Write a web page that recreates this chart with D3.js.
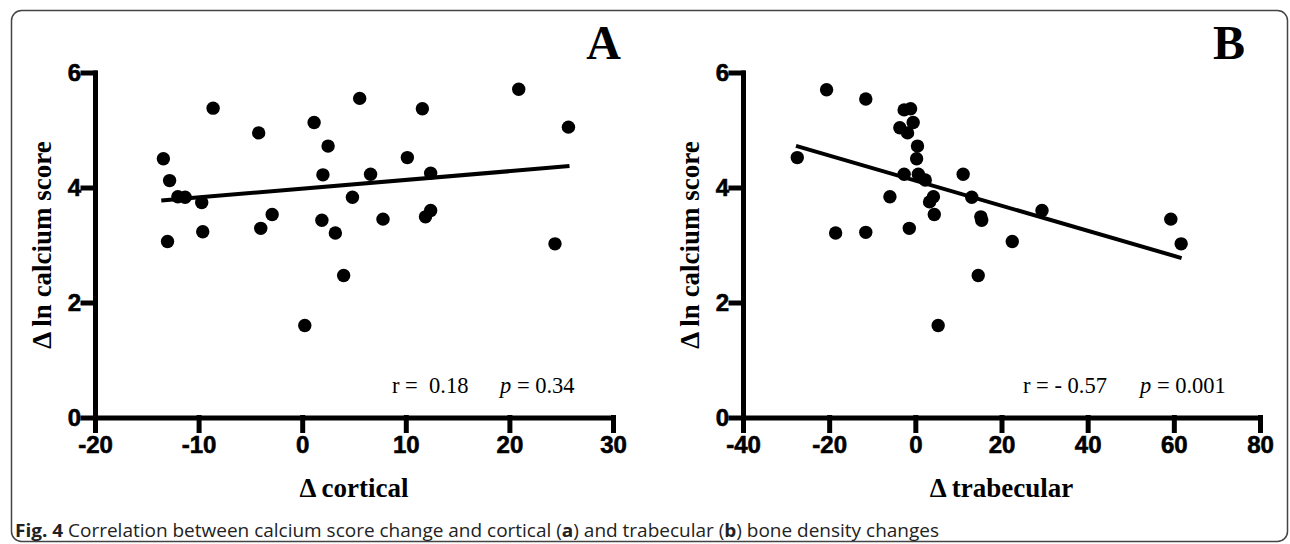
<!DOCTYPE html>
<html>
<head>
<meta charset="utf-8">
<script src="https://cdn.jsdelivr.net/npm/d3@7"></script>
<style>
  body { margin: 0; background: #fff; }
  svg { display: block; }
  .tick-label {
    font: bold 24px "Liberation Sans", Arial, sans-serif;
    fill: #000;
    stroke: #000;
    stroke-width: 0.6px;
  }
  .axis-title {
    font-family: "Liberation Serif", "Times New Roman", serif;
    font-weight: bold;
    font-size: 27px;
  }
  .panel-letter {
    font-family: "Liberation Serif", "Times New Roman", serif;
    font-weight: bold;
    font-size: 48px;
  }
  .stats {
    font-family: "Liberation Serif", "Times New Roman", serif;
    font-size: 22.5px;
  }
  .caption {
    font-family: "Open Sans", "Noto Sans", sans-serif;
    font-size: 17.5px;
    fill: #222;
  }
</style>
</head>
<body>
<div id="chart"></div>
<script>
// tick labels
const yTicks = [0, 2, 4, 6];
const corticalTicks = [-20, -10, 0, 10, 20, 30];
const trabecularTicks = [-40, -20, 0, 20, 40, 60, 80];

// panel A: delta cortical vs delta ln calcium score
const corticalX = [-13.4, -12.8, -12.0, -11.3, -13.0, -9.7, -9.6, -8.6, -4.2, -4.0,
  -2.9, 0.25, 1.15, 2.5, 2.0, 1.9, 3.2, 4.0, 4.85, 5.55,
  6.6, 7.8, 10.15, 11.6, 12.4, 11.9, 12.4, 20.9, 25.7, 24.4];
const corticalY = [4.50, 4.12, 3.84, 3.83, 3.06, 3.74, 3.23, 5.38, 4.95, 3.29,
  3.53, 1.60, 5.13, 4.72, 4.22, 3.43, 3.21, 2.47, 3.83, 5.55,
  4.23, 3.45, 4.52, 5.37, 4.25, 3.49, 3.60, 5.71, 5.05, 3.02];
const corticalFit = { intercept: 3.98, slope: 0.0152, from: -13.6, to: 25.8 };

// panel B: delta trabecular vs delta ln calcium score
const trabecularX = [-27.4, -20.6, -18.5, -11.5, -11.5, -5.9, -3.6, -2.6, -1.1, -1.8,
  -0.5, -2.6, -1.4, 0.5, 0.3, 0.7, 2.3, 3.3, 4.2, 4.4,
  5.3, 11.1, 13.1, 15.2, 14.6, 15.4, 29.4, 22.5, 59.3, 61.7];
const trabecularY = [4.52, 5.70, 3.21, 5.54, 3.22, 3.84, 5.04, 5.35, 5.37, 4.95,
  5.13, 4.23, 3.29, 4.72, 4.50, 4.23, 4.13, 3.75, 3.84, 3.53,
  1.60, 4.23, 3.83, 3.49, 2.47, 3.43, 3.60, 3.06, 3.45, 3.02];
const trabecularFit = { intercept: 4.12, slope: -0.0218, from: -27.7, to: 61.8 };

const width = 1290;
const height = 544;
const plotTop = 72.5;
const plotBottom = 417.5;

const svg = d3.select("#chart").append("svg")
  .attr("width", width)
  .attr("height", height);

// Outer frame
svg.append("rect")
  .attr("x", 11.5).attr("y", 10.5)
  .attr("width", 1276).attr("height", 531)
  .attr("rx", 10)
  .attr("fill", "none")
  .attr("stroke", "#444")
  .attr("stroke-width", 1.5);

const panels = [
  {
    xs: corticalX, ys: corticalY, fit: corticalFit,
    domain: [-20, 30], ticks: corticalTicks, left: 95, right: 613,
    title: "Δ cortical", letter: "A", letterX: 621,
    r: "r =  0.18", p: " = 0.34", rOff: 221, pOff: 113,
  },
  {
    xs: trabecularX, ys: trabecularY, fit: trabecularFit,
    domain: [-40, 80], ticks: trabecularTicks, left: 743, right: 1260,
    title: "Δ trabecular", letter: "B", letterX: 1245,
    r: "r = - 0.57", p: " = 0.001", rOff: 237, pOff: 120,
  },
];

// plain hyphen for negatives, like the original
const tickFmt = (d) => String(d);

panels.forEach(drawPanel);

function styleAxis(sel) {
  sel.attr("font-family", null).attr("font-size", null);
  sel.selectAll("path, line")
    .attr("stroke", "#000")
    .attr("stroke-width", 5)
    .attr("stroke-linecap", "square");
  sel.selectAll("text")
    .attr("class", "tick-label")
    .attr("fill", "#000");
}

function drawPanel(cfg) {
  const x = d3.scaleLinear().domain(cfg.domain).range([cfg.left, cfg.right]);
  const y = d3.scaleLinear().domain([0, 6]).range([plotBottom, plotTop]);
  const g = svg.append("g");

  // Axes
  g.append("g")
    .attr("transform", `translate(0,${y(0)})`)
    .call(d3.axisBottom(x).tickValues(cfg.ticks).tickFormat(tickFmt)
      .tickSize(13).tickSizeOuter(0).tickPadding(5))
    .call(styleAxis);

  g.append("g")
    .attr("transform", `translate(${x(cfg.domain[0])},0)`)
    .call(d3.axisLeft(y).tickValues(yTicks).tickFormat(tickFmt)
      .tickSize(12).tickSizeOuter(0).tickPadding(2))
    .call(styleAxis);

  // Regression line
  const f = cfg.fit;
  g.append("line")
    .attr("x1", x(f.from)).attr("y1", y(f.intercept + f.slope * f.from))
    .attr("x2", x(f.to)).attr("y2", y(f.intercept + f.slope * f.to))
    .attr("stroke", "#000")
    .attr("stroke-width", 4);

  // Points
  g.selectAll(".dot")
    .data(d3.range(cfg.xs.length))
    .join("circle")
    .attr("class", "dot")
    .attr("cx", (i) => x(cfg.xs[i]))
    .attr("cy", (i) => y(cfg.ys[i]))
    .attr("r", 6.7)
    .attr("fill", "#000");

  // Axis titles
  g.append("text")
    .attr("class", "axis-title")
    .attr("text-anchor", "middle")
    .attr("x", (cfg.left + cfg.right) / 2)
    .attr("y", 497)
    .text(cfg.title);

  g.append("text")
    .attr("class", "axis-title")
    .attr("text-anchor", "middle")
    .attr("transform", `translate(${cfg.left - 44},${(plotTop + plotBottom) / 2}) rotate(-90)`)
    .text("Δ ln calcium score");

  // Panel letter
  g.append("text")
    .attr("class", "panel-letter")
    .attr("text-anchor", "end")
    .attr("x", cfg.letterX)
    .attr("y", 59)
    .text(cfg.letter);

  // r and p values
  g.append("text")
    .attr("class", "stats")
    .attr("x", cfg.right - cfg.rOff)
    .attr("y", 393)
    .attr("xml:space", "preserve")
    .style("white-space", "pre")
    .text(cfg.r);

  const pText = g.append("text")
    .attr("class", "stats")
    .attr("x", cfg.right - cfg.pOff)
    .attr("y", 393);
  pText.append("tspan").style("font-style", "italic").text("p");
  pText.append("tspan").text(cfg.p);
}

// Caption
const caption = svg.append("text")
  .attr("class", "caption")
  .attr("x", 15)
  .attr("y", 537)
  .attr("textLength", 924)
  .attr("lengthAdjust", "spacingAndGlyphs");
caption.append("tspan").style("font-weight", "bold").text("Fig. 4");
caption.append("tspan").text(" Correlation between calcium score change and cortical (");
caption.append("tspan").style("font-weight", "bold").text("a");
caption.append("tspan").text(") and trabecular (");
caption.append("tspan").style("font-weight", "bold").text("b");
caption.append("tspan").text(") bone density changes");
</script>
</body>
</html>
